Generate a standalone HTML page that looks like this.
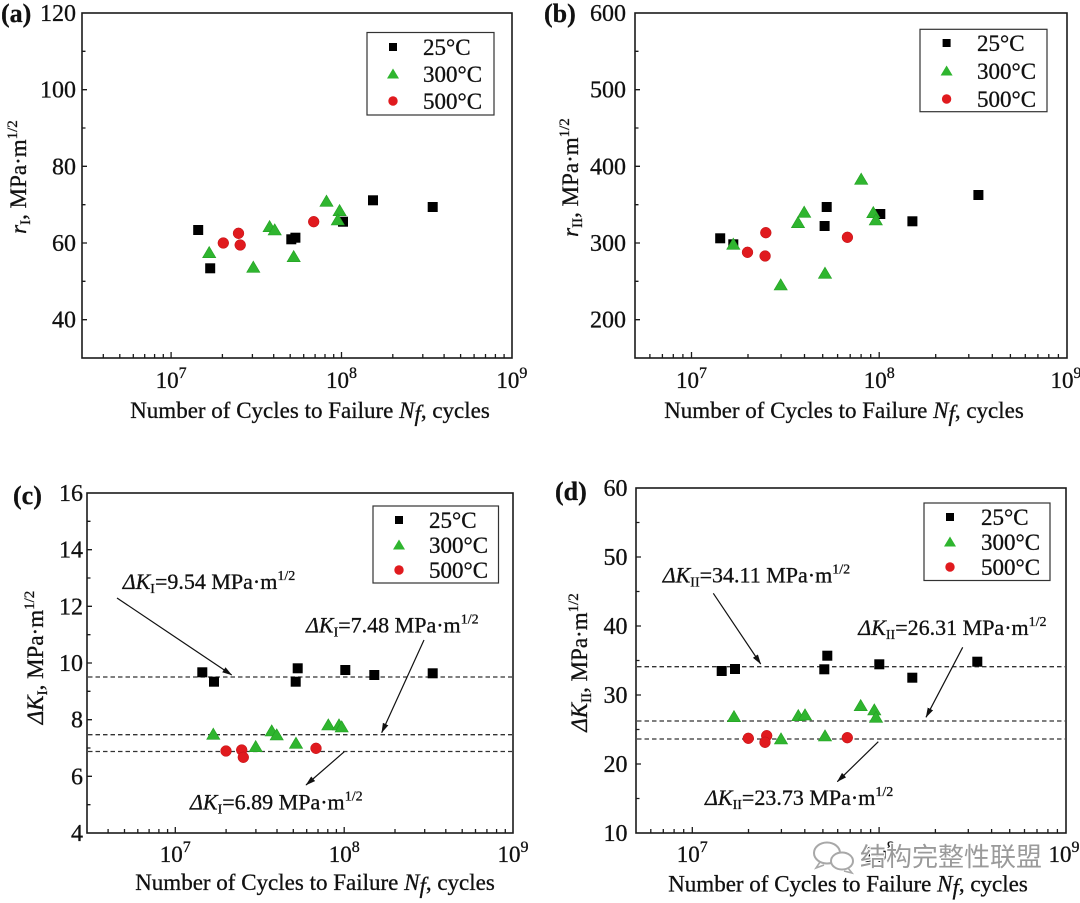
<!DOCTYPE html>
<html><head><meta charset="utf-8"><style>
html,body{margin:0;padding:0;background:#fff;}
svg{display:block;}
text{font-family:"Liberation Serif","Times New Roman",serif;fill:#111;stroke:#111;stroke-width:0.3;}
text.wm{font-family:"Liberation Sans","Noto Sans CJK SC",sans-serif;}
</style></head><body>
<svg width="1080" height="903" viewBox="0 0 1080 903" xmlns="http://www.w3.org/2000/svg">
<defs>
<rect id="sq" x="-5" y="-5" width="10" height="10" fill="#000"/>
<path id="tri" d="M0,-6.2 L6.6,5 L-6.6,5 Z" fill="#2fb52f" stroke="#23a023" stroke-width="0.6"/>
<circle id="ci" r="5.4" fill="#e01a1e" stroke="#c01015" stroke-width="0.5"/>
<rect id="lsq" x="-4" y="-4" width="8" height="8" fill="#000"/>
<path id="ltri" d="M0,-5.5 L6,4.5 L-6,4.5 Z" fill="#2fb52f"/>
<circle id="lci" r="4.7" fill="#e01a1e"/>
<marker id="ah" markerWidth="10" markerHeight="6" refX="9.5" refY="3" orient="auto" markerUnits="userSpaceOnUse"><path d="M0,0 L10,3 L0,6 Z" fill="#111"/></marker>
</defs>

<!-- ================= PANEL A ================= -->
<rect x="82" y="13" width="430" height="345" fill="none" stroke="#1a1a1a" stroke-width="1.6"/>
<path d="M171.1 358v-6M341.5 358v-6M103.3 358v-4M119.8 358v-4M133.3 358v-4M144.7 358v-4M154.6 358v-4M163.3 358v-4M222.4 358v-4M252.4 358v-4M273.7 358v-4M290.2 358v-4M303.7 358v-4M315.1 358v-4M325 358v-4M333.7 358v-4M392.8 358v-4M422.8 358v-4M444.1 358v-4M460.6 358v-4M474.1 358v-4M485.5 358v-4M495.4 358v-4M504.1 358v-4M82 89.7h5M82 166.3h5M82 243h5M82 319.7h5M82 51.3h3.5M82 128h3.5M82 204.7h3.5M82 281.3h3.5" stroke="#1a1a1a" stroke-width="1.3" fill="none"/>
<g font-size="24" text-anchor="end">
<text x="76" y="21">120</text><text x="76" y="97.7">100</text><text x="76" y="174.3">80</text><text x="76" y="251">60</text><text x="76" y="327.7">40</text>
</g>
<g font-size="23" text-anchor="middle">
<text x="171.1" y="388">10<tspan font-size="16" dy="-10">7</tspan></text>
<text x="341.5" y="388">10<tspan font-size="16" dy="-10">8</tspan></text>
<text x="511.9" y="388">10<tspan font-size="16" dy="-10">9</tspan></text>
</g>
<text x="310" y="418" text-anchor="middle" font-size="23">Number of Cycles to Failure <tspan font-style="italic">N</tspan><tspan font-style="italic" dy="3">f</tspan><tspan dy="-3">, cycles</tspan></text>
<text transform="translate(26,177) rotate(-90)" text-anchor="middle" font-size="23"><tspan font-style="italic">r</tspan><tspan font-size="15" dy="4">I</tspan><tspan dy="-4">, MPa·m</tspan><tspan font-size="15" dy="-9">1/2</tspan></text>
<text x="1" y="22" font-size="26" font-weight="bold">(a)</text>
<!-- legend a -->
<rect x="367" y="32.5" width="127" height="82.5" fill="#fff" stroke="#333" stroke-width="1.2"/>
<use href="#lsq" x="393" y="47"/><use href="#ltri" x="393" y="74"/><use href="#lci" x="393" y="101"/>
<g font-size="23"><text x="423" y="55">25°C</text><text x="423" y="82">300°C</text><text x="423" y="109">500°C</text></g>
<!-- data a -->
<use href="#sq" x="198.2" y="230"/><use href="#sq" x="210.2" y="268.3"/><use href="#sq" x="291.3" y="239.3"/><use href="#sq" x="295.4" y="237.7"/><use href="#sq" x="343" y="221.7"/><use href="#sq" x="373" y="200.3"/><use href="#sq" x="432.7" y="207"/>
<use href="#tri" x="209.2" y="252.7"/><use href="#tri" x="253.3" y="267.3"/><use href="#tri" x="269.6" y="226.7"/><use href="#tri" x="274.7" y="230"/><use href="#tri" x="293.7" y="256.7"/><use href="#tri" x="326.5" y="201.3"/><use href="#tri" x="339.6" y="210.7"/><use href="#tri" x="337.8" y="220"/>
<use href="#ci" x="223.3" y="243"/><use href="#ci" x="238.5" y="233.3"/><use href="#ci" x="240.2" y="245"/><use href="#ci" x="313.7" y="221.7"/>

<!-- ================= PANEL B ================= -->
<rect x="635" y="13" width="432" height="345" fill="none" stroke="#1a1a1a" stroke-width="1.6"/>
<path d="M691.5 358v-6M879.2 358v-6M649.9 358v-4M662.4 358v-4M673.3 358v-4M682.9 358v-4M748 358v-4M781.1 358v-4M804.5 358v-4M822.7 358v-4M837.6 358v-4M850.2 358v-4M861.1 358v-4M870.7 358v-4M935.7 358v-4M968.8 358v-4M992.3 358v-4M1010.4 358v-4M1025.3 358v-4M1037.9 358v-4M1048.8 358v-4M1058.4 358v-4M635 89.7h5M635 166.3h5M635 243h5M635 319.7h5M635 51.3h3.5M635 128h3.5M635 204.7h3.5M635 281.3h3.5" stroke="#1a1a1a" stroke-width="1.3" fill="none"/>
<g font-size="24" text-anchor="end">
<text x="626" y="21">600</text><text x="626" y="97.7">500</text><text x="626" y="174.3">400</text><text x="626" y="251">300</text><text x="626" y="327.7">200</text>
</g>
<g font-size="23" text-anchor="middle">
<text x="691.5" y="388">10<tspan font-size="16" dy="-10">7</tspan></text>
<text x="879.2" y="388">10<tspan font-size="16" dy="-10">8</tspan></text>
<text x="1066" y="388">10<tspan font-size="16" dy="-10">9</tspan></text>
</g>
<text x="844" y="418" text-anchor="middle" font-size="23">Number of Cycles to Failure <tspan font-style="italic">N</tspan><tspan font-style="italic" dy="3">f</tspan><tspan dy="-3">, cycles</tspan></text>
<text transform="translate(578,177.5) rotate(-90)" text-anchor="middle" font-size="23"><tspan font-style="italic">r</tspan><tspan font-size="15" dy="4">II</tspan><tspan dy="-4">, MPa·m</tspan><tspan font-size="15" dy="-9">1/2</tspan></text>
<text x="544" y="22" font-size="26" font-weight="bold">(b)</text>
<!-- legend b -->
<rect x="920" y="29.3" width="127" height="82.4" fill="#fff" stroke="#333" stroke-width="1.2"/>
<use href="#lsq" x="946.6" y="43"/><use href="#ltri" x="946.6" y="71"/><use href="#lci" x="946.6" y="99"/>
<g font-size="23"><text x="977" y="51">25°C</text><text x="977" y="79">300°C</text><text x="977" y="107">500°C</text></g>
<!-- data b -->
<use href="#sq" x="720.2" y="238.3"/><use href="#sq" x="733.3" y="244.3"/><use href="#sq" x="824.6" y="226"/><use href="#sq" x="826.7" y="207"/><use href="#sq" x="880.3" y="214"/><use href="#sq" x="912.4" y="221.3"/><use href="#sq" x="978.4" y="195"/>
<use href="#tri" x="733.3" y="244.3"/><use href="#tri" x="780.7" y="285"/><use href="#tri" x="798" y="222.7"/><use href="#tri" x="804.2" y="212.3"/><use href="#tri" x="825" y="273.3"/><use href="#tri" x="861.2" y="179.3"/><use href="#tri" x="873.3" y="212.7"/><use href="#tri" x="875.8" y="220"/>
<use href="#ci" x="747.5" y="252.3"/><use href="#ci" x="765.8" y="232.7"/><use href="#ci" x="765.1" y="256"/><use href="#ci" x="847.4" y="237.3"/>

<!-- ================= PANEL C ================= -->
<rect x="87" y="493" width="426" height="340" fill="none" stroke="#1a1a1a" stroke-width="1.6"/>
<path d="M175.3 833v-6M344.2 833v-6M108.1 833v-4M124.5 833v-4M137.8 833v-4M149.1 833v-4M158.9 833v-4M167.6 833v-4M226.1 833v-4M255.9 833v-4M277 833v-4M293.3 833v-4M306.7 833v-4M318 833v-4M327.8 833v-4M336.4 833v-4M395 833v-4M424.7 833v-4M445.8 833v-4M462.2 833v-4M475.5 833v-4M486.9 833v-4M496.6 833v-4M505.3 833v-4M87 549.7h5M87 606.3h5M87 663h5M87 719.7h5M87 776.3h5M87 521.3h3.5M87 578h3.5M87 634.7h3.5M87 691.3h3.5M87 748h3.5M87 804.7h3.5" stroke="#1a1a1a" stroke-width="1.3" fill="none"/>
<g font-size="24" text-anchor="end">
<text x="83" y="501">16</text><text x="83" y="557.7">14</text><text x="83" y="614.3">12</text><text x="83" y="671">10</text><text x="83" y="727.7">8</text><text x="83" y="784.3">6</text><text x="83" y="841">4</text>
</g>
<g font-size="23" text-anchor="middle">
<text x="175.3" y="862">10<tspan font-size="16" dy="-10">7</tspan></text>
<text x="344.2" y="862">10<tspan font-size="16" dy="-10">8</tspan></text>
<text x="513" y="862">10<tspan font-size="16" dy="-10">9</tspan></text>
</g>
<text x="315" y="890" text-anchor="middle" font-size="23">Number of Cycles to Failure <tspan font-style="italic">N</tspan><tspan font-style="italic" dy="3">f</tspan><tspan dy="-3">, cycles</tspan></text>
<text transform="translate(43,657.5) rotate(-90)" text-anchor="middle" font-size="23"><tspan font-style="italic">ΔK</tspan><tspan font-size="15" dy="4">I</tspan><tspan dy="-4">, MPa·m</tspan><tspan font-size="15" dy="-9">1/2</tspan></text>
<text x="13" y="504" font-size="26" font-weight="bold">(c)</text>
<!-- dashed lines c -->
<g stroke="#333" stroke-width="1.3" stroke-dasharray="4.5 3" fill="none">
<path d="M88 677H512"/><path d="M88 734.7H512"/><path d="M88 751.5H512"/>
</g>
<!-- legend c -->
<rect x="373" y="506" width="125.5" height="77" fill="#fff" stroke="#333" stroke-width="1.2"/>
<use href="#lsq" x="399" y="520"/><use href="#ltri" x="399" y="545"/><use href="#lci" x="399" y="570"/>
<g font-size="23"><text x="429" y="528">25°C</text><text x="429" y="553">300°C</text><text x="429" y="578">500°C</text></g>
<!-- data c -->
<use href="#sq" x="202.3" y="672.3"/><use href="#sq" x="214" y="681.7"/><use href="#sq" x="295.7" y="681.7"/><use href="#sq" x="297.7" y="668.3"/><use href="#sq" x="345.3" y="670"/><use href="#sq" x="374.3" y="675"/><use href="#sq" x="432.7" y="673.3"/>
<use href="#tri" x="213.3" y="734.3"/><use href="#tri" x="255.7" y="746.7"/><use href="#tri" x="271.7" y="731"/><use href="#tri" x="276.7" y="735"/><use href="#tri" x="296" y="743.3"/><use href="#tri" x="328.3" y="725"/><use href="#tri" x="339" y="725"/><use href="#tri" x="341.7" y="727"/>
<use href="#ci" x="226" y="751"/><use href="#ci" x="241.7" y="750"/><use href="#ci" x="243.3" y="757.3"/><use href="#ci" x="316" y="748.3"/>
<!-- annotations c -->
<g font-size="22">
<text x="122.7" y="589"><tspan font-style="italic">ΔK</tspan><tspan font-size="14" dy="4">I</tspan><tspan dy="-4">=9.54 MPa·m</tspan><tspan font-size="14" dy="-9">1/2</tspan></text>
<text x="306" y="632.7"><tspan font-style="italic">ΔK</tspan><tspan font-size="14" dy="4">I</tspan><tspan dy="-4">=7.48 MPa·m</tspan><tspan font-size="14" dy="-9">1/2</tspan></text>
<text x="190" y="809.3"><tspan font-style="italic">ΔK</tspan><tspan font-size="14" dy="4">I</tspan><tspan dy="-4">=6.89 MPa·m</tspan><tspan font-size="14" dy="-9">1/2</tspan></text>
</g>
<g stroke="#111" stroke-width="1.2" fill="none" marker-end="url(#ah)">
<path d="M117 598L231.7 675"/><path d="M424 640L381.7 732.7"/><path d="M344.3 751.7L306 785"/>
</g>

<!-- ================= PANEL D ================= -->
<rect x="636" y="488" width="430" height="345" fill="none" stroke="#1a1a1a" stroke-width="1.6"/>
<path d="M692.3 833v-6M879.1 833v-6M650.8 833v-4M663.3 833v-4M674.1 833v-4M683.7 833v-4M748.5 833v-4M781.4 833v-4M804.8 833v-4M822.9 833v-4M837.7 833v-4M850.2 833v-4M861 833v-4M870.6 833v-4M935.4 833v-4M968.3 833v-4M991.6 833v-4M1009.7 833v-4M1024.5 833v-4M1037 833v-4M1047.9 833v-4M1057.4 833v-4M636 557h5M636 626h5M636 695h5M636 764h5M636 522.5h3.5M636 591.5h3.5M636 660.5h3.5M636 729.5h3.5M636 798.5h3.5" stroke="#1a1a1a" stroke-width="1.3" fill="none"/>
<g font-size="24" text-anchor="end">
<text x="627.5" y="496">60</text><text x="627.5" y="565">50</text><text x="627.5" y="634">40</text><text x="627.5" y="703">30</text><text x="627.5" y="772">20</text><text x="627.5" y="841">10</text>
</g>
<g font-size="23" text-anchor="middle">
<text x="692.3" y="862">10<tspan font-size="16" dy="-10">7</tspan></text>
<text x="879.1" y="862">10<tspan font-size="16" dy="-10">8</tspan></text>
<text x="1064" y="862">10<tspan font-size="16" dy="-10">9</tspan></text>
</g>
<text x="848" y="891.5" text-anchor="middle" font-size="23">Number of Cycles to Failure <tspan font-style="italic">N</tspan><tspan font-style="italic" dy="3">f</tspan><tspan dy="-3">, cycles</tspan></text>
<text transform="translate(587,662.5) rotate(-90)" text-anchor="middle" font-size="23"><tspan font-style="italic">ΔK</tspan><tspan font-size="15" dy="4">II</tspan><tspan dy="-4">, MPa·m</tspan><tspan font-size="15" dy="-9">1/2</tspan></text>
<text x="555" y="500" font-size="26" font-weight="bold">(d)</text>
<!-- dashed lines d -->
<g stroke="#333" stroke-width="1.3" stroke-dasharray="4.5 3" fill="none">
<path d="M637 666.7H1065"/><path d="M637 721H1065"/><path d="M637 739H1065"/>
</g>
<!-- legend d -->
<rect x="924" y="503" width="126" height="77.5" fill="#fff" stroke="#333" stroke-width="1.2"/>
<use href="#lsq" x="950" y="517"/><use href="#ltri" x="950" y="542"/><use href="#lci" x="950" y="567"/>
<g font-size="23"><text x="981" y="525">25°C</text><text x="981" y="550">300°C</text><text x="981" y="575">500°C</text></g>
<!-- data d -->
<use href="#sq" x="721.7" y="671"/><use href="#sq" x="735" y="669"/><use href="#sq" x="824.3" y="669.3"/><use href="#sq" x="827.3" y="655.7"/><use href="#sq" x="879.3" y="664.3"/><use href="#sq" x="912.3" y="677.7"/><use href="#sq" x="977.3" y="661.7"/>
<use href="#tri" x="734" y="716.7"/><use href="#tri" x="781" y="739"/><use href="#tri" x="798.3" y="715.7"/><use href="#tri" x="805" y="715"/><use href="#tri" x="825" y="736"/><use href="#tri" x="860.7" y="705.7"/><use href="#tri" x="874.3" y="710"/><use href="#tri" x="876" y="717.3"/>
<use href="#ci" x="748.3" y="738.3"/><use href="#ci" x="766.7" y="735.7"/><use href="#ci" x="765" y="742.3"/><use href="#ci" x="847.3" y="737.7"/>
<!-- annotations d -->
<g font-size="22">
<text x="662.7" y="582.7"><tspan font-style="italic">ΔK</tspan><tspan font-size="14" dy="4">II</tspan><tspan dy="-4">=34.11 MPa·m</tspan><tspan font-size="14" dy="-9">1/2</tspan></text>
<text x="858.3" y="635"><tspan font-style="italic">ΔK</tspan><tspan font-size="14" dy="4">II</tspan><tspan dy="-4">=26.31 MPa·m</tspan><tspan font-size="14" dy="-9">1/2</tspan></text>
<text x="705" y="805"><tspan font-style="italic">ΔK</tspan><tspan font-size="14" dy="4">II</tspan><tspan dy="-4">=23.73 MPa·m</tspan><tspan font-size="14" dy="-9">1/2</tspan></text>
</g>
<g stroke="#111" stroke-width="1.2" fill="none" marker-end="url(#ah)">
<path d="M713.3 593.3L760.7 664"/><path d="M962.7 647.3L926 717.3"/><path d="M878.3 741.7L837.3 781.7"/>
</g>

<!-- watermark -->
<g>
<ellipse cx="827" cy="853" rx="13" ry="10.5" fill="#fff" stroke="#a8a8a8" stroke-width="2"/>
<ellipse cx="842" cy="861" rx="11" ry="8.5" fill="#fff" stroke="#a8a8a8" stroke-width="2"/>
<path d="M820 862l-4 6 8-3M848 868l4 5-8-2" fill="none" stroke="#a8a8a8" stroke-width="1.6"/>
<text class="wm" x="860" y="866" font-size="26" style="fill:#9a9a9a;stroke:#fff;stroke-width:2.5;paint-order:stroke">结构完整性联盟</text>
</g>
</svg>
</body></html>
